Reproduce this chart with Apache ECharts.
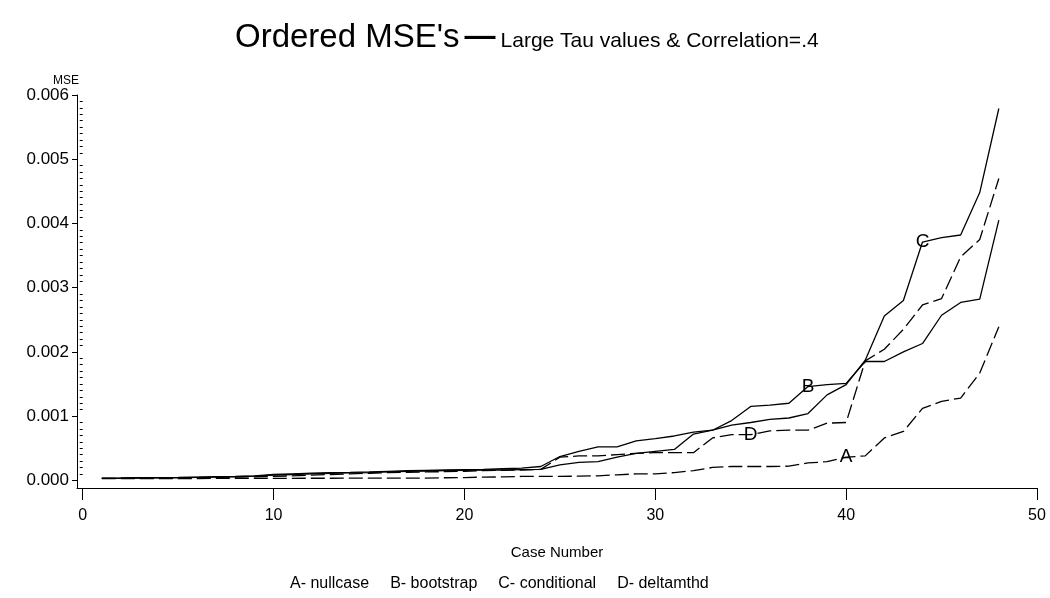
<!DOCTYPE html>
<html><head><meta charset="utf-8">
<script src="https://cdn.jsdelivr.net/npm/echarts@6/dist/echarts.min.js"></script>
<style>html,body{margin:0;padding:0;background:#fff}#c{width:1050px;height:598px}</style>
</head><body><div id="c"></div>
<script>
// ---- data ----
const caseNumbers = [1,2,3,4,5,6,7,8,9,10,11,12,13,14,15,16,17,18,19,20,21,22,23,24,25,26,27,28,29,30,31,32,33,34,35,36,37,38,39,40,41,42,43,44,45,46,47,48];
const nullcase = [0.000025,0.000026,0.000027,0.000027,0.000028,0.000028,0.000029,0.00003,0.00003,0.000031,0.000031,0.000032,0.000032,0.000033,0.000034,0.000034,0.000035,0.000035,0.00004,0.000042,0.00005,0.000052,0.00006,0.00006,0.000062,0.000064,0.00007,0.000085,0.0001,0.0001,0.00012,0.00015,0.0002,0.000215,0.000215,0.000215,0.00022,0.00027,0.00029,0.00036,0.00038,0.00066,0.00076,0.00112,0.00123,0.00128,0.00167,0.00239];
const bootstrap = [0.000035,0.000037,0.00004,0.000042,0.000045,0.00005,0.000055,0.00006,0.00007,0.00009,0.0001,0.00011,0.00012,0.000122,0.00013,0.00014,0.00015,0.000155,0.00016,0.000165,0.00017,0.00018,0.00019,0.000215,0.00037,0.00045,0.00052,0.00052,0.000614,0.00065,0.00069,0.00075,0.00078,0.00093,0.00115,0.00117,0.0012,0.00146,0.00149,0.00151,0.00185,0.00185,0.002,0.00213,0.00257,0.00277,0.00282,0.00405];
const conditional = [0.00003,0.000032,0.000035,0.000037,0.00004,0.000045,0.00005,0.000055,0.000065,0.00008,0.00009,0.0001,0.00011,0.000115,0.00012,0.00013,0.00014,0.000145,0.00015,0.000155,0.00016,0.00016,0.000165,0.00017,0.00024,0.00028,0.00029,0.00036,0.00042,0.00045,0.00048,0.00072,0.00078,0.00086,0.0009,0.00095,0.00097,0.00104,0.00133,0.00149,0.00187,0.00256,0.0028,0.00371,0.00378,0.00382,0.00448,0.00579];
const deltamthd = [0.00003,0.00003,0.000032,0.000034,0.000036,0.00004,0.000045,0.00005,0.000055,0.00006,0.00007,0.00008,0.00009,0.0001,0.00011,0.00012,0.000125,0.00013,0.000135,0.00014,0.00015,0.000155,0.00016,0.00017,0.00036,0.00038,0.00038,0.0004,0.00042,0.00043,0.00043,0.00043,0.00066,0.00071,0.00071,0.00077,0.00078,0.00078,0.00089,0.0009,0.00186,0.00204,0.00235,0.00273,0.00283,0.00348,0.00375,0.0047];
const seriesNames = ['A- nullcase','B- bootstrap','C- conditional','D- deltamthd'];
const seriesLetters = ['A','B','C','D'];
const labelAtCase = [40, 38, 44, 35];
const xTicks = [0,10,20,30,40,50];
const yTicks = [0,0.001,0.002,0.003,0.004,0.005,0.006];

// minor y ticks: ten divisions between major ticks
const yMinorTicks = [];
for (let i = 0; i < yTicks.length - 1; i++) {
  for (let k = 1; k < 10; k++) yMinorTicks.push(+(yTicks[i] + (yTicks[i+1]-yTicks[i]) * k / 10).toFixed(6));
}

const FONT = 'Liberation Sans, Arial, sans-serif';
const allValues = [nullcase, bootstrap, conditional, deltamthd];
const dashed = [true, false, false, true];

function buildData(vals, letter, atCase) {
  return caseNumbers.map((c, i) => {
    const item = { value: [c, vals[i]] };
    if (c === atCase) {
      item.label = { show: true, formatter: letter, position: 'inside', color: '#000', fontSize: 19, fontFamily: FONT };
    }
    return item;
  });
}

const chart = echarts.init(document.getElementById('c'), null, { renderer: 'canvas' });
chart.setOption({
  backgroundColor: '#fff',
  animation: false,
  title: {
    text: "{a|Ordered MSE's} {b|—} {c|Large Tau values & Correlation=.4}",
    left: 230,
    top: 16,
    textStyle: {
      fontWeight: 'normal',
      rich: {
        a: { fontSize: 33, fontWeight: 'normal', fontFamily: FONT, color: '#000' },
        b: { fontSize: 31, fontWeight: 'bold', fontFamily: FONT, color: '#000' },
        c: { fontSize: 21, fontWeight: 'normal', fontFamily: FONT, color: '#000', padding: [8, 0, 0, 0] }
      }
    }
  },
  legend: {
    bottom: 1,
    left: 280,
    icon: 'none',
    itemWidth: 0,
    itemGap: 16,
    selectedMode: false,
    data: seriesNames,
    textStyle: { fontSize: 16, fontFamily: FONT, color: '#000' }
  },
  grid: { left: 77, right: 13, top: 95, bottom: 110 },
  xAxis: {
    type: 'value',
    min: -0.3,
    max: 50,
    name: 'Case Number',
    nameLocation: 'middle',
    nameGap: 57,
    nameTextStyle: { fontSize: 15, fontFamily: FONT, color: '#000' },
    axisLine: { onZero: false, lineStyle: { color: '#000', width: 1 } },
    axisTick: { customValues: xTicks, length: 12, lineStyle: { color: '#000' } },
    axisLabel: { customValues: xTicks, margin: 20, fontSize: 16, fontFamily: FONT, color: '#000' },
    splitLine: { show: false }
  },
  yAxis: [{
    type: 'value',
    min: -0.00012,
    max: 0.006,
    name: 'MSE',
    nameLocation: 'end',
    nameGap: 6,
    nameTextStyle: { fontSize: 12, fontFamily: FONT, color: '#000', align: 'right', padding: [0, -2, 0, 0] },
    axisLine: { show: true, onZero: false, lineStyle: { color: '#000', width: 1 } },
    axisTick: { customValues: yTicks, length: 5, lineStyle: { color: '#000' } },
    axisLabel: { customValues: yTicks, margin: 8, fontSize: 17, fontFamily: FONT, color: '#000', formatter: v => v.toFixed(3) },
    splitLine: { show: false }
  }, {
    type: 'value',
    min: -0.00012,
    max: 0.006,
    position: 'left',
    axisLine: { show: false },
    axisTick: { show: true, customValues: yMinorTicks, length: 3, lineStyle: { color: '#000' } },
    axisLabel: { show: false },
    splitLine: { show: false }
  }],
  series: allValues.map((vals, s) => ({
    name: seriesNames[s],
    type: 'line',
    yAxisIndex: 0,
    showSymbol: true,
    symbol: 'circle',
    symbolSize: 0,
    silent: true,
    data: buildData(vals, seriesLetters[s], labelAtCase[s]),
    lineStyle: { color: '#000', width: 1.3, type: dashed[s] ? [14, 5] : 'solid' },
    itemStyle: { color: '#000' }
  }))
});
</script>
</body></html>
